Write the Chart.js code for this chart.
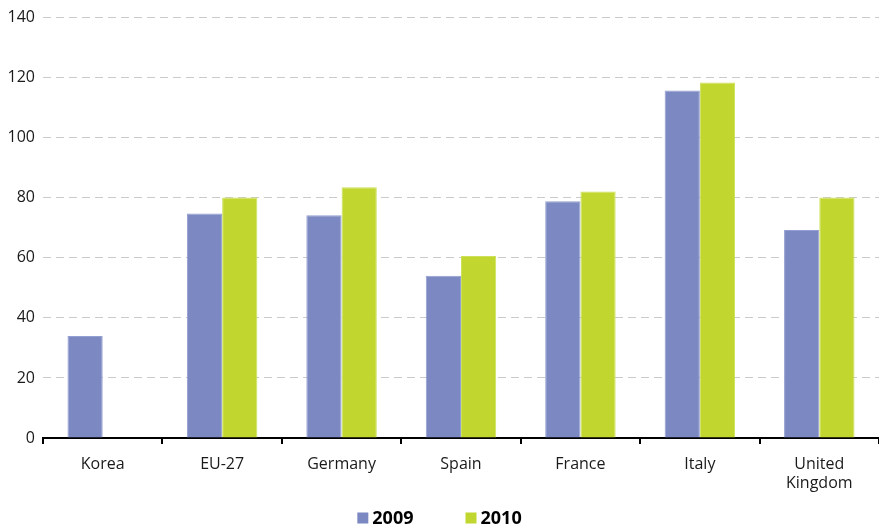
<!DOCTYPE html>
<html>
<head>
<meta charset="utf-8">
<script src="https://cdn.jsdelivr.net/npm/chart.js@4"></script>
<style>
  html, body { margin: 0; padding: 0; background: #fff; }
  #wrap { width: 879px; height: 529px; }
</style>
</head>
<body>
<div id="wrap"><canvas id="chart" width="879" height="529"></canvas></div>
<script>
// data
const categories = ["Korea", "EU-27", "Germany", "Spain", "France", "Italy", ["United", "Kingdom"]];
const values2009 = [34, 74.8, 74.2, 54, 78.8, 115.7, 69.3];
const values2010 = [null, 80.1, 83.5, 60.6, 82.1, 118.4, 80.1];
const seriesNames = ["2009", "2010"];
const yTicks = [0, 20, 40, 60, 80, 100, 120, 140];

const FONT = "'Open Sans', 'Noto Sans', sans-serif";

// legend drawn under the axis, spaced like the original
const bottomLegend = {
  id: "bottomLegend",
  afterDraw(chart) {
    const ctx = chart.ctx;
    const sets = chart.data.datasets;
    const box = 11, gap = 4, spacing = 52;
    ctx.save();
    ctx.font = "bold 18px " + FONT;
    ctx.textBaseline = "middle";
    const widths = sets.map(d => box + gap + ctx.measureText(d.label).width);
    const total = widths.reduce((a, b) => a + b, 0) + spacing * (sets.length - 1);
    let x = chart.width / 2 - total / 2;
    const y = chart.height - 11;
    sets.forEach((d, i) => {
      ctx.fillStyle = d.backgroundColor;
      ctx.fillRect(x, y - box / 2, box, box);
      ctx.fillStyle = "#000";
      ctx.fillText(d.label, x + box + gap, y + 1);
      x += widths[i] + spacing;
    });
    ctx.restore();
  }
};

new Chart(document.getElementById("chart"), {
  type: "bar",
  data: {
    labels: categories,
    datasets: [
      { label: seriesNames[0], data: values2009, backgroundColor: "#7b88c2", borderColor: "#939fd0", borderWidth: 1 },
      { label: seriesNames[1], data: values2010, backgroundColor: "#c1d730", borderColor: "#cde05a", borderWidth: 1 }
    ]
  },
  options: {
    responsive: false,
    animation: false,
    layout: { padding: { top: 9, right: 0, left: 0, bottom: 29 } },
    datasets: { bar: { categoryPercentage: 0.59, barPercentage: 1 } },
    scales: {
      x: {
        grid: { offset: true, drawOnChartArea: false, color: "#000", tickLength: 6, lineWidth: 2 },
        border: { color: "#000", width: 2 },
        ticks: { color: "#1a1a1a", font: { family: FONT, size: 16 }, padding: 11, maxRotation: 0 },
        afterFit: s => { s.height = 62; }
      },
      y: {
        min: 0, max: 140,
        afterBuildTicks: s => { s.ticks = yTicks.map(v => ({ value: v })); },
        grid: { color: "#cacaca", lineWidth: 1, drawTicks: false },
        border: { display: false, dash: [8, 5] },
        ticks: { color: "#1a1a1a", font: { family: FONT, size: 16 }, padding: 8 },
        afterFit: s => { s.width = 43; }
      }
    },
    plugins: {
      legend: { display: false },
      tooltip: { enabled: false }
    }
  },
  plugins: [bottomLegend]
});
</script>
</body>
</html>
